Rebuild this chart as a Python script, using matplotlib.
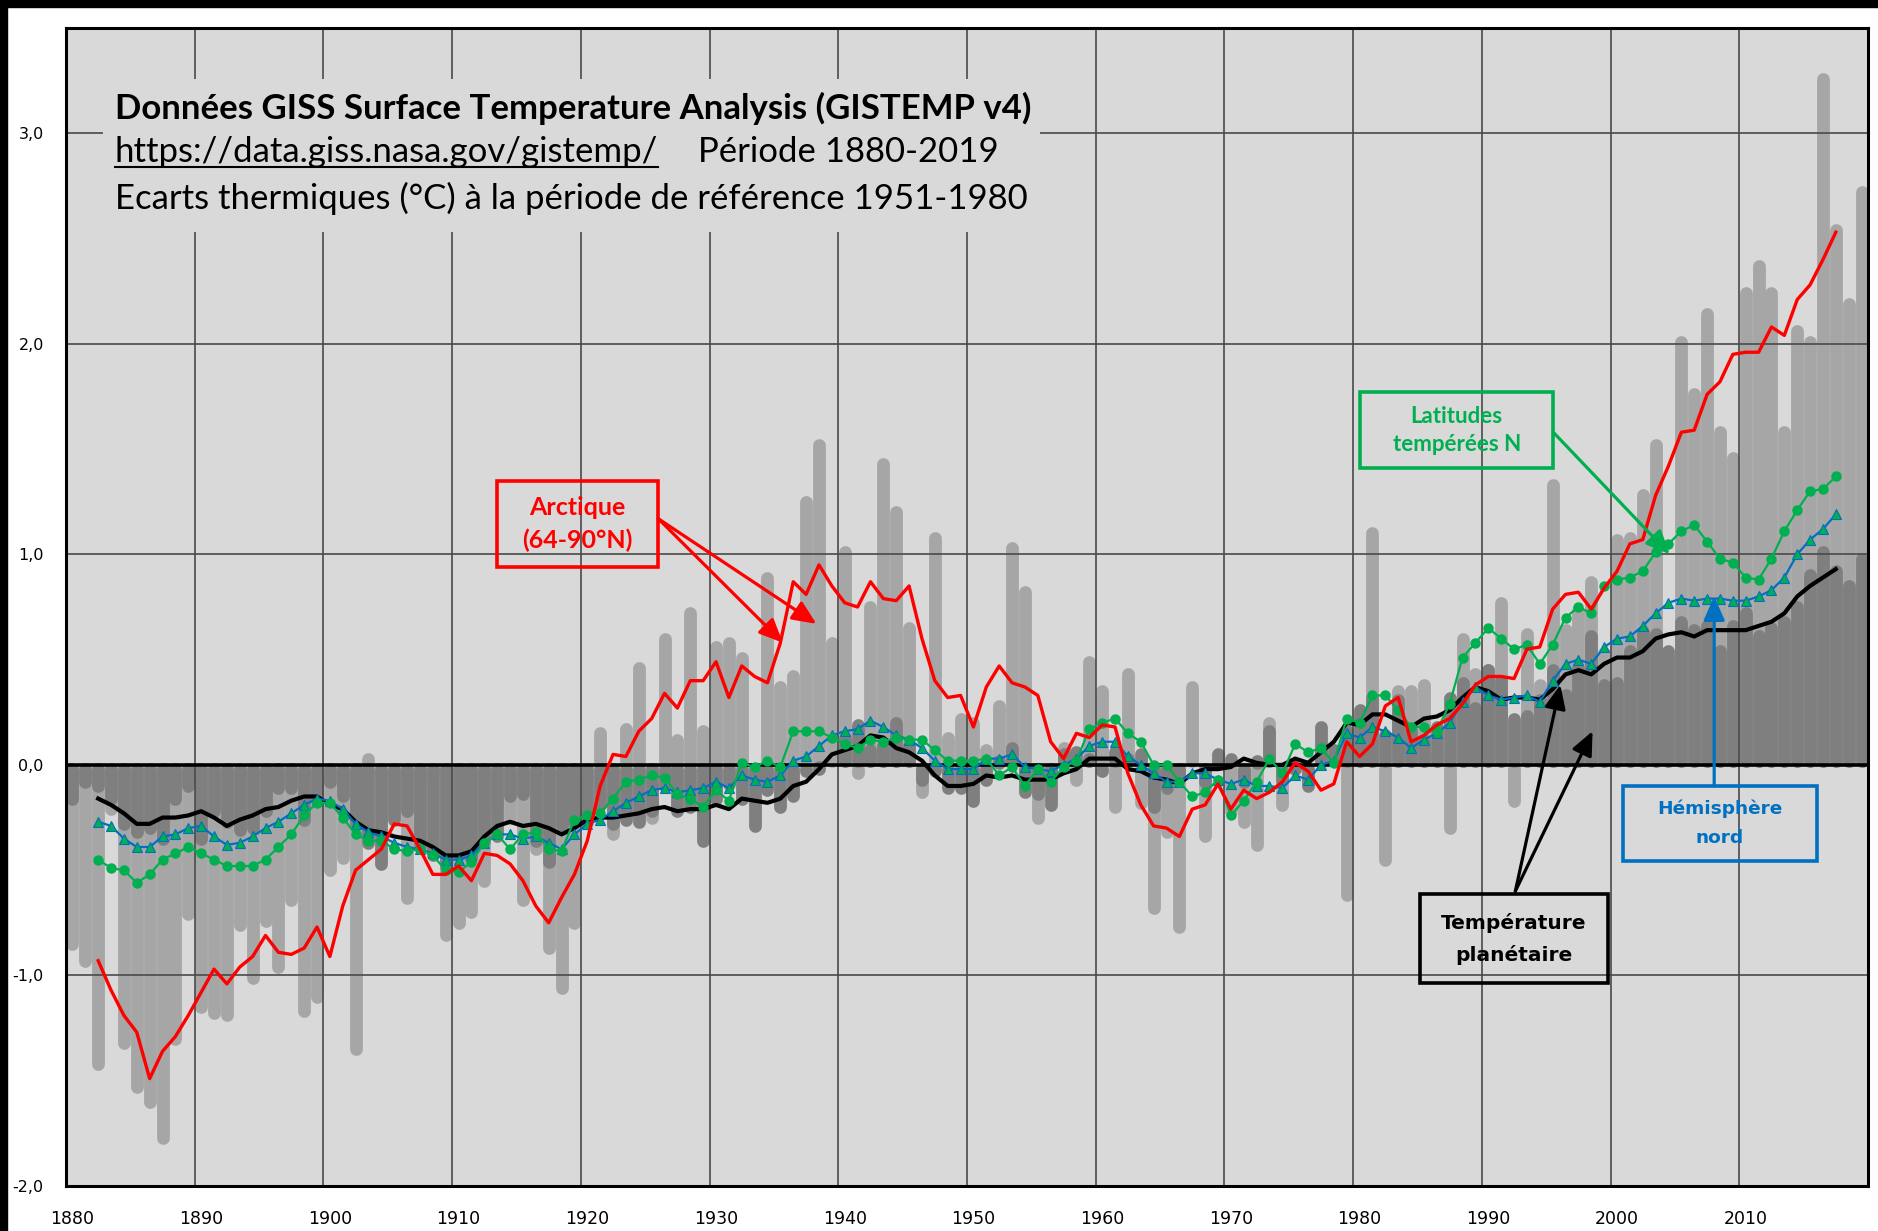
# GISTEMP v4 - zonal temperature anomalies, Arctic vs northern hemisphere vs globe
import numpy as np
import matplotlib
matplotlib.use('Agg')
import matplotlib.pyplot as plt
from matplotlib.patches import Rectangle
from matplotlib.lines import Line2D

# annual values (deg C, ref 1951-1980), one per year 1880..2019
years = np.arange(1880, 2020)
global_annual = [
    -0.16, -0.08, -0.10, -0.16, -0.28, -0.32, -0.30, -0.35, -0.16, -0.10,
    -0.35, -0.22, -0.27, -0.31, -0.30, -0.22, -0.11, -0.11, -0.26, -0.17,
    -0.08, -0.15, -0.28, -0.37, -0.47, -0.26, -0.22, -0.39, -0.43, -0.48,
    -0.43, -0.44, -0.36, -0.34, -0.15, -0.14, -0.36, -0.46, -0.29, -0.27,
    -0.27, -0.19, -0.28, -0.26, -0.27, -0.22, -0.10, -0.22, -0.20, -0.36,
    -0.16, -0.09, -0.16, -0.29, -0.12, -0.20, -0.15, -0.03, -0.01, -0.02,
    0.13, 0.19, 0.07, 0.09, 0.20, 0.09, -0.07, -0.03, -0.11, -0.11,
    -0.17, -0.07, 0.01, 0.08, -0.13, -0.14, -0.19, 0.05, 0.06, 0.03,
    -0.03, 0.06, 0.03, 0.05, -0.20, -0.11, -0.06, -0.02, -0.08, 0.05,
    0.03, -0.08, 0.01, 0.16, -0.07, -0.01, -0.10, 0.18, 0.07, 0.16,
    0.26, 0.32, 0.14, 0.31, 0.16, 0.12, 0.18, 0.32, 0.39, 0.27,
    0.45, 0.40, 0.22, 0.23, 0.31, 0.45, 0.33, 0.46, 0.61, 0.38,
    0.39, 0.54, 0.63, 0.62, 0.54, 0.68, 0.64, 0.66, 0.54, 0.66,
    0.72, 0.61, 0.65, 0.68, 0.75, 0.90, 1.01, 0.92, 0.85, 0.98]
arctic_annual = [
    -0.85, -0.93, -1.42, -0.21, -1.32, -1.53, -1.60, -1.77, -1.30, -0.71,
    -1.15, -1.18, -1.19, -0.76, -1.01, -0.74, -0.96, -0.64, -1.17, -1.10,
    -0.50, -0.44, -1.35, 0.03, -0.25, -0.24, -0.63, -0.31, -0.05, -0.81,
    -0.75, -0.70, -0.55, -0.20, -0.25, -0.64, -0.40, -0.87, -1.06, -0.75,
    0.00, 0.15, -0.33, 0.17, 0.46, -0.25, 0.60, 0.12, 0.72, 0.16,
    0.56, 0.58, 0.51, -0.05, 0.89, 0.37, 0.42, 1.25, 1.52, 0.58,
    1.01, -0.04, 0.75, 1.43, 1.20, 0.65, -0.13, 1.08, 0.13, 0.22,
    0.20, 0.07, 0.28, 1.03, 0.82, -0.25, -0.03, 0.08, -0.07, 0.49,
    0.35, -0.20, 0.43, -0.18, -0.68, -0.32, -0.77, 0.37, -0.34, 0.01,
    -0.22, -0.27, -0.38, 0.20, -0.19, -0.01, -0.02, 0.07, 0.00, -0.62,
    0.12, 1.10, -0.45, 0.35, 0.35, 0.38, 0.05, -0.30, 0.60, 0.43,
    0.45, 0.77, -0.17, 0.62, 0.38, 1.33, 0.64, 0.73, 0.87, 0.53,
    1.07, 1.08, 1.28, 1.52, 0.50, 2.01, 1.76, 2.14, 1.58, 1.46,
    2.24, 2.37, 2.24, 1.58, 2.06, 2.01, 3.26, 2.54, 2.19, 2.72]

# 5-year running means, 1882..2017
ma_years = np.arange(1882, 2018)
arctic_ma = [
    -0.93, -1.07, -1.19, -1.27, -1.49, -1.36, -1.29, -1.19,
    -1.08, -0.97, -1.04, -0.96, -0.91, -0.81, -0.89, -0.90, -0.87, -0.77,
    -0.91, -0.67, -0.50, -0.45, -0.40, -0.28, -0.29, -0.40, -0.52, -0.52,
    -0.48, -0.55, -0.42, -0.43, -0.47, -0.55, -0.67, -0.75, -0.63, -0.52,
    -0.36, -0.10, 0.05, 0.04, 0.16, 0.22, 0.34, 0.27, 0.40, 0.40,
    0.49, 0.32, 0.47, 0.42, 0.39, 0.58, 0.87, 0.81, 0.95, 0.85,
    0.77, 0.75, 0.87, 0.79, 0.78, 0.85, 0.60, 0.40, 0.32, 0.33,
    0.18, 0.37, 0.47, 0.39, 0.37, 0.33, 0.11, 0.03, 0.15, 0.13,
    0.19, 0.18, -0.04, -0.19, -0.29, -0.30, -0.34, -0.21, -0.19, -0.09,
    -0.21, -0.12, -0.16, -0.13, -0.08, 0.01, -0.03, -0.12, -0.09, 0.11,
    0.04, 0.10, 0.28, 0.32, 0.11, 0.14, 0.19, 0.22, 0.29, 0.38,
    0.42, 0.42, 0.41, 0.55, 0.56, 0.74, 0.81, 0.82, 0.74, 0.84,
    0.92, 1.05, 1.07, 1.28, 1.42, 1.58, 1.59, 1.76, 1.82, 1.95,
    1.96, 1.96, 2.08, 2.04, 2.21, 2.28, 2.40, 2.53]
temperate_ma = [
    -0.45, -0.49, -0.50, -0.56, -0.52, -0.45, -0.42, -0.39,
    -0.42, -0.45, -0.48, -0.48, -0.48, -0.45, -0.39, -0.33, -0.24, -0.18,
    -0.18, -0.25, -0.33, -0.36, -0.36, -0.40, -0.41, -0.40, -0.43, -0.50,
    -0.51, -0.46, -0.37, -0.33, -0.40, -0.33, -0.32, -0.40, -0.41, -0.26,
    -0.24, -0.23, -0.16, -0.08, -0.07, -0.05, -0.06, -0.14, -0.16, -0.20,
    -0.12, -0.17, 0.01, -0.01, 0.02, -0.01, 0.16, 0.16, 0.16, 0.13,
    0.10, 0.08, 0.12, 0.11, 0.13, 0.12, 0.12, 0.07, 0.02, 0.02,
    0.02, 0.03, -0.05, -0.01, -0.10, -0.02, -0.08, -0.01, 0.02, 0.17,
    0.20, 0.22, 0.15, 0.11, 0.00, 0.00, -0.08, -0.15, -0.13, -0.07,
    -0.24, -0.17, -0.08, 0.03, -0.04, 0.10, 0.06, 0.08, 0.01, 0.22,
    0.20, 0.33, 0.33, 0.26, 0.18, 0.18, 0.16, 0.29, 0.51, 0.58,
    0.65, 0.60, 0.55, 0.57, 0.48, 0.57, 0.70, 0.75, 0.72, 0.85,
    0.88, 0.89, 0.92, 1.01, 1.05, 1.11, 1.14, 1.06, 0.98, 0.96,
    0.89, 0.88, 0.98, 1.11, 1.21, 1.30, 1.31, 1.37]
nh_ma = [
    -0.27, -0.29, -0.35, -0.39, -0.39, -0.34, -0.33, -0.30,
    -0.29, -0.34, -0.38, -0.37, -0.34, -0.30, -0.27, -0.23, -0.19, -0.16,
    -0.17, -0.21, -0.28, -0.32, -0.34, -0.37, -0.39, -0.40, -0.42, -0.45,
    -0.45, -0.43, -0.37, -0.33, -0.33, -0.35, -0.34, -0.37, -0.40, -0.33,
    -0.28, -0.26, -0.22, -0.18, -0.15, -0.12, -0.11, -0.13, -0.12, -0.11,
    -0.08, -0.11, -0.05, -0.07, -0.08, -0.05, 0.02, 0.04, 0.09, 0.14,
    0.16, 0.17, 0.21, 0.18, 0.14, 0.12, 0.08, 0.02, -0.02, -0.02,
    -0.02, 0.03, 0.03, 0.05, -0.01, -0.02, -0.03, 0.00, 0.03, 0.09,
    0.11, 0.11, 0.04, 0.00, -0.04, -0.08, -0.08, -0.04, -0.04, -0.07,
    -0.09, -0.07, -0.10, -0.10, -0.11, -0.05, -0.07, 0.00, 0.02, 0.15,
    0.13, 0.18, 0.16, 0.13, 0.08, 0.12, 0.15, 0.20, 0.30, 0.37,
    0.33, 0.31, 0.32, 0.33, 0.30, 0.40, 0.48, 0.50, 0.48, 0.56,
    0.60, 0.61, 0.66, 0.72, 0.77, 0.79, 0.78, 0.79, 0.79, 0.78,
    0.78, 0.80, 0.83, 0.89, 1.00, 1.07, 1.12, 1.19]
global_ma = [
    -0.16, -0.19, -0.23, -0.28, -0.28, -0.25, -0.25, -0.24,
    -0.22, -0.25, -0.29, -0.26, -0.24, -0.21, -0.20, -0.17, -0.15, -0.15,
    -0.19, -0.21, -0.27, -0.31, -0.32, -0.34, -0.35, -0.36, -0.39, -0.43,
    -0.43, -0.41, -0.34, -0.29, -0.27, -0.29, -0.28, -0.30, -0.33, -0.30,
    -0.26, -0.25, -0.25, -0.24, -0.23, -0.21, -0.20, -0.22, -0.21, -0.21,
    -0.19, -0.21, -0.16, -0.17, -0.18, -0.16, -0.10, -0.08, -0.02, 0.05,
    0.07, 0.09, 0.14, 0.13, 0.08, 0.06, 0.02, -0.05, -0.10, -0.10,
    -0.09, -0.05, -0.06, -0.05, -0.07, -0.07, -0.07, -0.04, -0.02, 0.03,
    0.03, 0.03, -0.02, -0.03, -0.06, -0.07, -0.09, -0.04, -0.02, -0.02,
    -0.01, 0.03, 0.01, 0.00, 0.00, 0.03, 0.01, 0.06, 0.11, 0.20,
    0.19, 0.24, 0.24, 0.21, 0.18, 0.22, 0.23, 0.26, 0.32, 0.37,
    0.35, 0.31, 0.32, 0.32, 0.31, 0.36, 0.43, 0.45, 0.43, 0.48,
    0.51, 0.51, 0.54, 0.60, 0.62, 0.63, 0.61, 0.64, 0.64, 0.64,
    0.64, 0.66, 0.68, 0.72, 0.80, 0.85, 0.89, 0.93]

decade_labels = [str(d) for d in range(1880, 2020, 10)]
y_values = [-2, -1, 0, 1, 2, 3]
y_labels = ['-2,0', '-1,0', '0,0', '1,0', '2,0', '3,0']

W, H = 1878, 1231
fig = plt.figure(figsize=(W / 100, H / 100), dpi=100)
fig.patch.set_facecolor('white')
# screenshot edge (black band top and left)
fig.add_artist(Rectangle((0, 1 - 7 / H), 1, 7 / H, transform=fig.transFigure,
                         color='black', zorder=0))
fig.add_artist(Rectangle((0, 0), 7 / W, 1, transform=fig.transFigure,
                         color='black', zorder=0))

ax = fig.add_axes([66 / W, 1 - 1186 / H, 1802 / W, 1158 / H])
ax.set_facecolor('#d9d9d9')
ax.set_xlim(1880, 2020)
ax.set_ylim(-2, 3.5)
ax.set_axisbelow(False)

x = years + 0.5
xm = ma_years + 0.5


def draw_bars(vals, color, z):
    v = np.array(vals)
    base = np.sign(v) * 0.02
    ax.vlines(x, base, v, colors=color, lw=9.2, capstyle='round', zorder=z)


draw_bars(arctic_annual, '#a6a6a6', 1.6)
draw_bars(global_annual, '#7f7f7f', 1.8)

# grid / ticks
ax.set_xticks(np.arange(1890, 2020, 10), minor=True)
ax.set_xticks(np.arange(1880, 2020, 10) + 0.5)
ax.set_xticklabels(decade_labels)
ax.set_yticks(y_values)
ax.set_yticklabels(y_labels)
ax.grid(which='minor', axis='x', color='#4a4a4a', lw=1.2)
ax.grid(which='major', axis='y', color='#4a4a4a', lw=1.2)
ax.tick_params(which='both', length=0)
ax.tick_params(axis='x', pad=17, labelsize=12.5)
ax.tick_params(axis='y', pad=16, labelsize=11.5)
for s in ax.spines.values():
    s.set_linewidth(2.2)
    s.set_color('black')
    s.set_zorder(12)

ax.axhline(0, color='black', lw=2.6, zorder=3)

# series
ax.plot(xm, global_ma, color='black', lw=3.0, zorder=5)
ax.plot(xm, nh_ma, color='#0070c0', lw=1.6, marker='^', ms=7,
        mfc='#00b050', mec='#0070c0', mew=0.8, zorder=6)
ax.plot(xm, temperate_ma, color='#00b050', lw=1.6, marker='o', ms=6.5,
        mfc='#00b050', mec='#00b050', zorder=6.5)
ax.plot(xm, arctic_ma, color='#ff0000', lw=2.4, zorder=7)

# title block (opaque, hides the grid)
ax.add_patch(Rectangle((1882.87, 2.53), 72.8, 0.73, fc='#d9d9d9', ec='none', zorder=3))
tfont = dict(fontfamily='Lato', fontsize=25, va='center', ha='left', zorder=4)
ax.text(1883.8, 3.12, 'Données GISS Surface Temperature Analysis (GISTEMP v4)',
        fontweight='bold', **tfont)
url = ax.text(1883.8, 2.91, 'https://data.giss.nasa.gov/gistemp/', **tfont)
ax.text(1929.1, 2.91, 'Période 1880-2019', **tfont)
ax.text(1883.8, 2.69, 'Ecarts thermiques (°C) à la période de référence 1951-1980', **tfont)


def label_box(x0, x1, y0, y1, color, text, family, size, spacing):
    ax.add_patch(Rectangle((x0, y0), x1 - x0, y1 - y0, fill=False, ec=color,
                           lw=2.6, zorder=9))
    ax.text((x0 + x1) / 2, (y0 + y1) / 2, text, color=color, ha='center',
            va='center', fontfamily=family, fontweight='bold', fontsize=size,
            linespacing=spacing, zorder=9)


def arrow(start, end, color):
    ax.annotate('', xy=end, xytext=start, zorder=10,
                arrowprops=dict(arrowstyle='-|>,head_length=0.9,head_width=0.4',
                                color=color, lw=2.3, shrinkA=0, shrinkB=0,
                                mutation_scale=16))


label_box(1913.5, 1926.0, 0.94, 1.35, '#ff0000', 'Arctique\n(64-90°N)', 'Lato', 18, 1.5)
arrow((1926.0, 1.17), (1935.7, 0.58), '#ff0000')
arrow((1926.0, 1.17), (1938.3, 0.67), '#ff0000')

label_box(1980.55, 1995.55, 1.41, 1.77, '#00b050', 'Latitudes\ntempérées N', 'Lato', 16, 1.4)
arrow((1995.55, 1.58), (2004.6, 1.0), '#00b050')

label_box(2001.0, 2016.0, -0.455, -0.10, '#0070c0', 'Hémisphère\nnord', 'DejaVu Sans', 13.3, 1.75)
arrow((2008.05, -0.10), (2008.05, 0.80), '#0070c0')

label_box(1985.2, 1999.8, -1.035, -0.615, 'black', 'Température\nplanétaire', 'DejaVu Sans', 14.5, 1.75)
arrow((1992.6, -0.60), (1996.1, 0.38), 'black')
arrow((1992.6, -0.60), (1998.6, 0.16), 'black')

# underline the url
fig.canvas.draw()
bb = url.get_window_extent(renderer=fig.canvas.get_renderer())
uy = bb.y0 + 1
fig.add_artist(Line2D([bb.x0 / W, bb.x1 / W], [uy / H, uy / H], color='black',
                      lw=1.5, transform=fig.transFigure, zorder=20))

fig.savefig('out.png', dpi=100, facecolor=fig.get_facecolor())
